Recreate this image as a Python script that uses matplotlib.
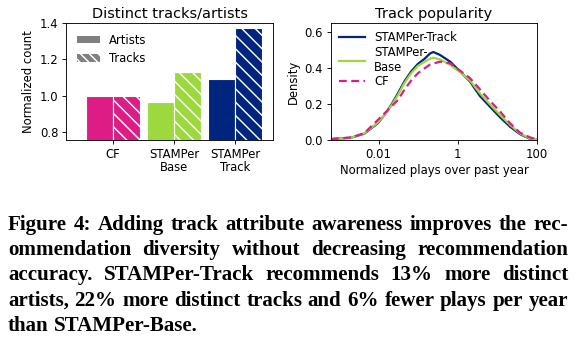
import matplotlib
matplotlib.use("Agg")
import matplotlib.pyplot as plt
from matplotlib.patches import Patch
import matplotlib.ticker as mticker
import numpy as np

# ---------------- data ----------------
methods = ["CF", "STAMPer\nBase", "STAMPer\nTrack"]
artists = [1.000, 0.964, 1.094]
tracks = [0.995, 1.131, 1.372]
bar_colors = ["#dd1c85", "#9bd93f", "#00257f"]

log_plays = [-3.2, -2.69, -2.36, -2.02, -1.85, -1.68, -1.51, -1.35, -1.18, -1.01,
             -0.84, -0.70, -0.615, -0.45, -0.19, 0.06, 0.31, 0.56, 0.81, 1.07,
             1.32, 1.57, 1.82, 2.0]
dens_track = [0.005, 0.013, 0.035, 0.093, 0.139, 0.195, 0.260, 0.325, 0.381, 0.423,
              0.452, 0.482, 0.490, 0.474, 0.436, 0.381, 0.325, 0.245, 0.186, 0.126,
              0.074, 0.033, 0.007, 0.002]
dens_base = [0.005, 0.013, 0.037, 0.097, 0.139, 0.190, 0.251, 0.316, 0.371, 0.412,
             0.436, 0.453, 0.458, 0.449, 0.418, 0.377, 0.331, 0.260, 0.199, 0.139,
             0.084, 0.037, 0.009, 0.002]
dens_cf = [0.005, 0.014, 0.038, 0.111, 0.148, 0.186, 0.223, 0.279, 0.330, 0.371,
           0.399, 0.420, 0.426, 0.436, 0.427, 0.386, 0.344, 0.282, 0.219, 0.158,
           0.093, 0.041, 0.015, 0.003]

caption_lines = [
    "Figure 4: Adding track attribute awareness improves the rec-",
    "ommendation diversity without decreasing recommendation",
    "accuracy. STAMPer-Track recommends 13% more distinct",
    "artists, 22% more distinct tracks and 6% fewer plays per year",
    "than STAMPer-Base.",
]

# ---------------- figure ----------------
W, H, DPI = 580, 352, 80
plt.rcParams["font.family"] = ["DejaVu Sans"]
plt.rcParams["font.size"] = 10.5
plt.rcParams["hatch.linewidth"] = 1.3
fig = plt.figure(figsize=(W / DPI, H / DPI), dpi=DPI)

ax1 = fig.add_axes([66 / W, 1 - 140 / H, 207 / W, 116.7 / H])
ax2 = fig.add_axes([331 / W, 1 - 140 / H, 206 / W, 116.7 / H])

# left: bars
x = np.arange(len(methods))
bw = 0.44
ax1.bar(x - bw / 2, artists, width=bw, color=bar_colors, edgecolor="white", linewidth=1)
ax1.bar(x + bw / 2, tracks, width=bw, color=bar_colors, edgecolor="white", linewidth=1,
        hatch="\\\\")
ax1.set_xlim(-0.77, 2.62)
ax1.set_ylim(0.754, 1.4)
ax1.set_yticks([0.8, 1.0, 1.2, 1.4])
ax1.set_xticks(x)
ax1.set_xticklabels(methods, linespacing=1.0)
ax1.set_ylabel("Normalized count")
ax1.set_title("Distinct tracks/artists", fontsize=13, pad=5)
leg_handles = [Patch(facecolor="#808080", edgecolor="white", linewidth=0),
               Patch(facecolor="#808080", edgecolor="white", linewidth=0, hatch="\\\\\\")]
ax1.legend(leg_handles, ["Artists", "Tracks"], loc="upper left", frameon=False,
           handlelength=2.0, handleheight=0.6, labelspacing=0.45, borderaxespad=0.5)

# right: density lines
px = [10 ** v for v in log_plays]
ax2.plot(px, dens_track, color="#00257f", lw=2.0, label="STAMPer-Track")
ax2.plot(px, dens_base, color="#9bd93f", lw=2.0, label="STAMPer-\nBase")
ax2.plot(px, dens_cf, color="#dd1c85", lw=2.0, ls=(0, (3.5, 2)), label="CF")
ax2.set_xscale("log")
ax2.set_xlim(10 ** -3.2, 100)
ax2.set_ylim(0, 0.65)
ax2.set_xticks([0.01, 1, 100])
ax2.xaxis.set_major_formatter(mticker.FixedFormatter(["0.01", "1", "100"]))
ax2.xaxis.set_minor_locator(mticker.NullLocator())
ax2.set_yticks([0.0, 0.2, 0.4, 0.6])
ax2.set_xlabel("Normalized plays over past year", labelpad=3)
ax2.set_ylabel("Density")
ax2.set_title("Track popularity", fontsize=13, pad=5)
ax2.legend(loc="upper left", frameon=False, handlelength=2.2, labelspacing=0.1,
           borderaxespad=0.3, borderpad=0.4)

# ---------------- caption (justified) ----------------
renderer = fig.canvas.get_renderer()
cap_font = dict(family="Liberation Serif", fontweight="bold", color="black")
x0, x1 = 8.0, 568.0
base = 18.0


def width_of(s, size):
    t = fig.text(0, 0, s, fontsize=size, **cap_font)
    w = t.get_window_extent(renderer).width
    t.remove()
    return w


space_w = width_of("a a", base) - width_of("aa", base)
naturals = []
for ln in caption_lines[:-1]:
    words = ln.split(" ")
    naturals.append(sum(width_of(wd, base) for wd in words) + space_w * (len(words) - 1))
size = base * (x1 - x0) * 0.995 / max(naturals)
space_w = width_of("a a", size) - width_of("aa", size)

line_y = [225, 250.2, 275.4, 300.6, 325.8]
for i, ln in enumerate(caption_lines):
    words = ln.split(" ")
    texts = [fig.text(0, 0, wd, fontsize=size, va="center", **cap_font) for wd in words]
    widths = [t.get_window_extent(renderer).width for t in texts]
    if i == len(caption_lines) - 1:
        gap = space_w
    else:
        gap = ((x1 - x0) - sum(widths)) / (len(words) - 1)
    cx = x0
    for t, w in zip(texts, widths):
        t.set_position((cx / W, 1 - line_y[i] / H))
        cx += w + gap

fig.savefig("out.png", dpi=DPI)
